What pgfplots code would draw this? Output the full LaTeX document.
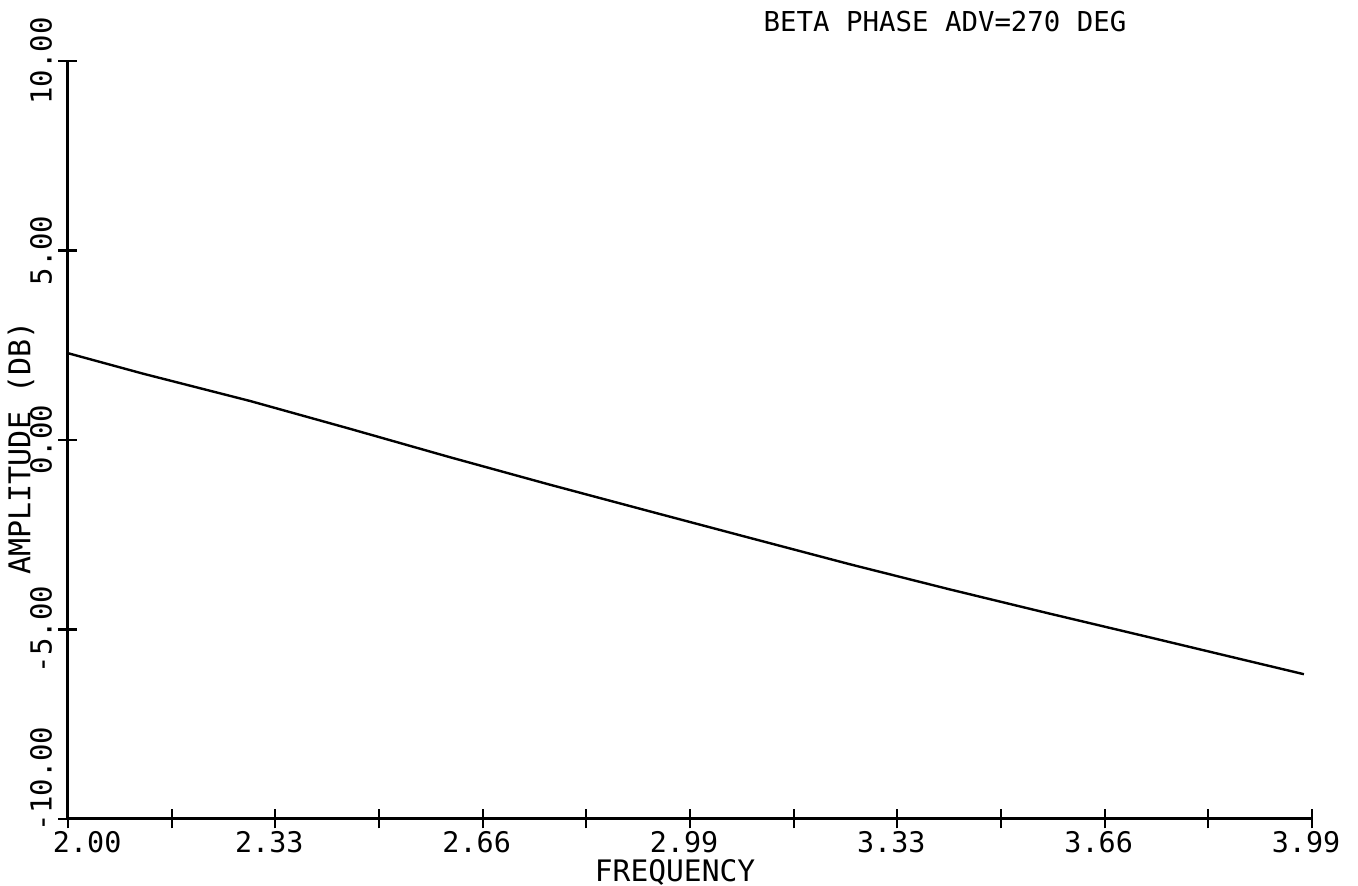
\documentclass[border=0pt]{standalone}
\usepackage{pgfplots}
\pgfplotsset{compat=1.18}
\usepackage{fontspec}
\setmainfont{DejaVu Sans Mono}
\begin{document}
\begin{tikzpicture}
\path[use as bounding box] (-34pt,-33.5pt) rectangle (645pt,409.5pt);
\begin{axis}[
  at={(0pt,0pt)}, anchor=south west,
  scale only axis, width=622pt, height=379pt,
  xmin=2, xmax=3.99, ymin=-10, ymax=10,
  axis lines*=left,
  axis line style={line width=1.5pt, black},
  tick align=center, major tick length=9.5pt,
  tick style={line width=1.1pt, black},
  /pgf/number format/assume math mode=true,
  xtick={2,2.16583,2.33167,2.4975,2.66333,2.82917,2.995,3.16083,3.32667,3.4925,3.65833,3.82417,3.99},
  xticklabels={\makebox[0pt][l]{\hspace*{-4.5pt}2.00},,2.33,,2.66,,2.99,,3.33,,3.66,,3.99},
  xticklabel style={anchor=north, inner sep=0pt, yshift=-1.5pt, xshift=-3pt, font=\fontsize{14.2}{16}\selectfont},
  ytick={-10,-5,0,5,10},
  yticklabels={\hspace*{40pt}-10.00,-5.00,0.00,5.00,10.00},
  yticklabel style={rotate=90, anchor=south, inner sep=0pt, font=\fontsize{14.5}{16}\selectfont},
  yticklabel shift=3pt,
  clip=false,
]
\addplot[black, line width=1.2pt, no marks] coordinates {
(2.000, 2.29) (2.12, 1.75) (2.291, 1.03) (2.45, 0.30) (2.61, -0.45) (2.771, -1.18)
(2.93, -1.88) (3.09, -2.58) (3.251, -3.28) (3.41, -3.94) (3.57, -4.58) (3.731, -5.21)
(3.85, -5.68) (3.977, -6.18)
};
\node[font=\fontsize{13.7}{15}\selectfont, anchor=center] at (rel axis cs:0.705,1.0515) {BETA PHASE ADV=270 DEG};
\node[font=\fontsize{14.8}{17}\selectfont, anchor=center, inner sep=0pt] at (rel axis cs:0.488,-0.0705) {FREQUENCY};
\node[font=\fontsize{15}{17}\selectfont, anchor=center, rotate=90] at (rel axis cs:-0.0378,0.4894) {AMPLITUDE (DB)};
\end{axis}
\end{tikzpicture}
\end{document}
